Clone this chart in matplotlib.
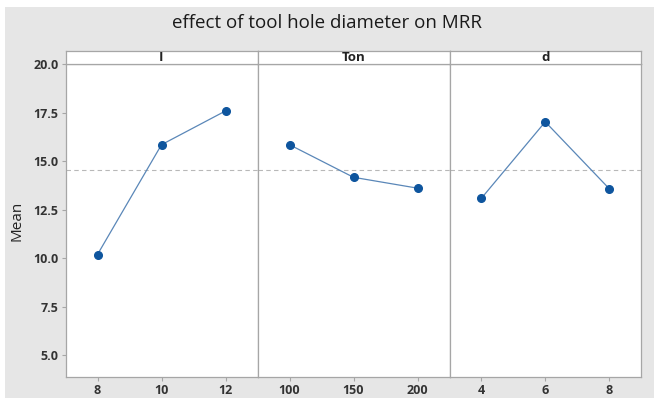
import numpy as np
import matplotlib
matplotlib.use('Agg')
import matplotlib.pyplot as plt
from matplotlib.patches import Rectangle

# factor levels and mean MRR
factors = ['I', 'Ton', 'd']
I_levels = [8, 10, 12]
I_means = [10.18, 15.84, 17.58]
Ton_levels = [100, 150, 200]
Ton_means = [15.84, 14.16, 13.60]
d_levels = [4, 6, 8]
d_means = [13.08, 17.02, 13.58]

levels = [I_levels, Ton_levels, d_levels]
means = [I_means, Ton_means, d_means]
grand_mean = np.mean(I_means + Ton_means + d_means)

plt.rcParams['font.family'] = ['Open Sans', 'DejaVu Sans']

W, H = 654, 398
fig = plt.figure(figsize=(W / 100, H / 100), dpi=100, facecolor='white')
fig.patches.append(Rectangle((5 / W, 0), 1, 1 - 7 / H, transform=fig.transFigure,
                             facecolor='#e6e6e6', edgecolor='none', zorder=-10))

edges = [65.5, 257.5, 449.5, 641]
top, bottom, head = 64, 377, 50.5
gray = '#a6a6a6'

fig.text(0.5, 1 - 23 / H, 'effect of tool hole diameter on MRR', ha='center', va='center',
         fontsize=13.5, color='#1a1a1a')

for i in range(3):
    x0, x1 = edges[i], edges[i + 1]
    ax = fig.add_axes([x0 / W, 1 - bottom / H, (x1 - x0) / W, (bottom - top) / H])
    ax.set_facecolor('white')
    lv = levels[i]
    step = lv[1] - lv[0]
    ax.set_xlim(lv[0] - step / 2, lv[-1] + step / 2)
    ax.set_ylim(5 - 22 / 19.4, 20)
    ax.axhline(grand_mean, color='#b8b8b8', linestyle=(0, (4, 3)), linewidth=0.8, zorder=1)
    ax.plot(lv, means[i], color='#5a87b8', linewidth=0.9, zorder=2)
    ax.plot(lv, means[i], 'o', color='#0e559e', markersize=5.5, zorder=3)
    ax.set_xticks(lv)
    ax.set_xticklabels([str(v) for v in lv], fontsize=9, fontweight='bold', color='#333333')
    ax.set_yticks(np.arange(5, 20.1, 2.5))
    if i == 0:
        ax.set_yticklabels(['%.1f' % v for v in np.arange(5, 20.1, 2.5)], fontsize=9,
                           fontweight='bold', color='#333333')
        ax.set_ylabel('Mean', fontsize=11, color='#222222', labelpad=6)
        ax.tick_params(axis='y', length=3, color=gray, pad=2)
    else:
        ax.tick_params(axis='y', left=False, labelleft=False)
    ax.tick_params(axis='x', length=3, color=gray, pad=2)
    for s in ax.spines.values():
        s.set_color(gray)
        s.set_linewidth(0.9)

    hx = fig.add_axes([x0 / W, 1 - top / H, (x1 - x0) / W, (top - head) / H])
    hx.set_facecolor('white')
    hx.set_xticks([])
    hx.set_yticks([])
    for s in hx.spines.values():
        s.set_color(gray)
        s.set_linewidth(0.9)
    hx.text(0.5, 0.45, factors[i], ha='center', va='center', fontsize=9.5,
            fontweight='bold', color='#222222', transform=hx.transAxes)

fig.savefig('out.png', dpi=100, facecolor=fig.get_facecolor())
